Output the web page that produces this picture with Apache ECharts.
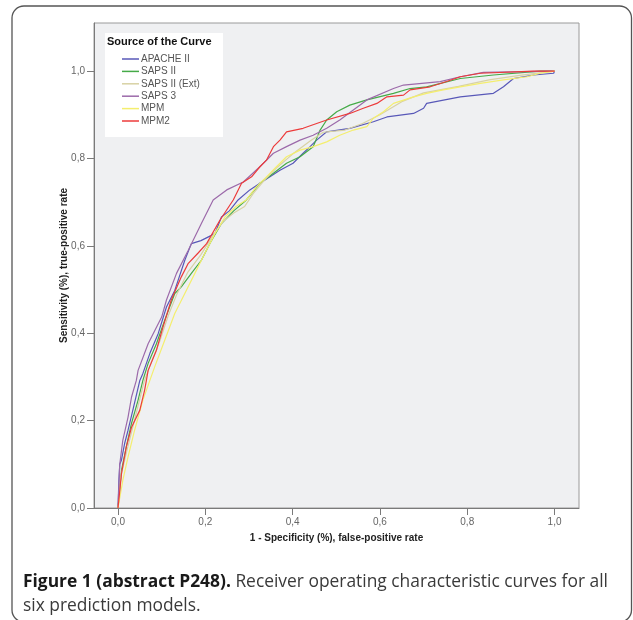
<!DOCTYPE html>
<html><head><meta charset="utf-8">
<script src="https://cdn.jsdelivr.net/npm/echarts@6/dist/echarts.min.js"></script>
<style>html,body{margin:0;padding:0;background:#fff}#c{width:633px;height:620px}</style>
</head><body><div id="c"></div>
<script>
// Series names (legend order)
const seriesNames = ['APACHE II', 'SAPS II', 'SAPS II (Ext)', 'SAPS 3', 'MPM', 'MPM2'];
const seriesColors = ['#5858b8', '#45aa48', '#d8d2a4', '#9c6aaa', '#f4ee6e', '#ec3b3b'];
const tickValues = [0, 0.2, 0.4, 0.6, 0.8, 1.0];

// [1 - specificity, sensitivity]
const apache2 = [[0,0],[0.002,0.063],[0.004,0.10],[0.008,0.11],[0.015,0.147],[0.023,0.178],[0.034,0.224],[0.05,0.292],[0.057,0.308],[0.073,0.354],[0.092,0.399],[0.111,0.46],[0.13,0.498],[0.153,0.567],[0.168,0.605],[0.19,0.612],[0.206,0.62],[0.222,0.628],[0.237,0.666],[0.255,0.68],[0.275,0.705],[0.302,0.728],[0.325,0.743],[0.348,0.758],[0.371,0.773],[0.401,0.789],[0.424,0.812],[0.44,0.827],[0.455,0.842],[0.478,0.861],[0.531,0.869],[0.585,0.884],[0.616,0.895],[0.677,0.903],[0.7,0.915],[0.707,0.926],[0.784,0.941],[0.86,0.949],[0.883,0.964],[0.906,0.983],[0.952,0.991],[0.998,0.995],[1,1]];
const saps2 = [[0,0],[0.008,0.086],[0.019,0.14],[0.031,0.194],[0.046,0.247],[0.057,0.292],[0.069,0.331],[0.088,0.376],[0.107,0.43],[0.13,0.491],[0.145,0.506],[0.168,0.537],[0.191,0.567],[0.214,0.612],[0.237,0.651],[0.265,0.68],[0.294,0.705],[0.325,0.743],[0.356,0.766],[0.386,0.789],[0.417,0.804],[0.447,0.827],[0.463,0.865],[0.478,0.888],[0.501,0.907],[0.531,0.922],[0.57,0.934],[0.631,0.949],[0.669,0.96],[0.707,0.964],[0.784,0.983],[0.86,0.991],[0.967,1.0],[1,1]];
const saps2ext = [[0,0],[0.006,0.07],[0.02,0.13],[0.035,0.19],[0.05,0.25],[0.06,0.29],[0.075,0.33],[0.095,0.38],[0.115,0.44],[0.135,0.49],[0.16,0.54],[0.19,0.58],[0.215,0.62],[0.24,0.655],[0.265,0.675],[0.29,0.69],[0.31,0.72],[0.335,0.75],[0.365,0.78],[0.4,0.81],[0.44,0.84],[0.47,0.86],[0.52,0.865],[0.56,0.88],[0.6,0.9],[0.65,0.93],[0.7,0.95],[0.78,0.965],[0.85,0.98],[0.92,0.99],[1,1]];
const saps3 = [[0,0],[0.004,0.10],[0.011,0.155],[0.023,0.208],[0.031,0.254],[0.042,0.292],[0.046,0.315],[0.069,0.376],[0.1,0.437],[0.111,0.476],[0.134,0.537],[0.161,0.59],[0.191,0.651],[0.218,0.705],[0.249,0.728],[0.287,0.746],[0.325,0.781],[0.356,0.812],[0.386,0.827],[0.417,0.842],[0.447,0.853],[0.478,0.869],[0.508,0.888],[0.539,0.911],[0.57,0.934],[0.631,0.96],[0.654,0.968],[0.738,0.976],[0.784,0.987],[0.837,0.997],[1,1]];
const mpm = [[0,0],[0.011,0.063],[0.023,0.117],[0.038,0.178],[0.057,0.247],[0.073,0.292],[0.084,0.323],[0.107,0.384],[0.13,0.445],[0.153,0.491],[0.176,0.537],[0.199,0.583],[0.222,0.628],[0.245,0.666],[0.27,0.69],[0.294,0.705],[0.317,0.735],[0.34,0.758],[0.363,0.781],[0.386,0.804],[0.417,0.819],[0.447,0.827],[0.478,0.838],[0.508,0.853],[0.539,0.865],[0.57,0.873],[0.585,0.892],[0.608,0.907],[0.631,0.926],[0.677,0.941],[0.707,0.949],[0.745,0.957],[0.784,0.964],[0.83,0.972],[0.883,0.98],[0.937,0.987],[0.967,0.995],[1,1]];
const mpm2 = [[0,0],[0.008,0.079],[0.019,0.14],[0.031,0.185],[0.05,0.224],[0.061,0.27],[0.065,0.292],[0.069,0.315],[0.088,0.361],[0.103,0.414],[0.122,0.476],[0.145,0.529],[0.161,0.56],[0.183,0.583],[0.203,0.605],[0.233,0.658],[0.264,0.705],[0.283,0.743],[0.306,0.758],[0.325,0.781],[0.34,0.796],[0.356,0.827],[0.371,0.842],[0.386,0.861],[0.424,0.869],[0.455,0.88],[0.478,0.888],[0.531,0.903],[0.562,0.915],[0.593,0.926],[0.616,0.941],[0.654,0.945],[0.669,0.957],[0.715,0.964],[0.753,0.976],[0.784,0.987],[0.83,0.995],[0.952,1.0],[1,1]];

const allData = [apache2, saps2, saps2ext, saps3, mpm, mpm2];
const FONT = '"Liberation Sans", Arial, sans-serif';
const CAPFONT = '"Open Sans", "Noto Sans", sans-serif';
const fmt = v => v.toFixed(1).replace('.', ',');

const chart = echarts.init(document.getElementById('c'), null, {renderer: 'canvas'});
chart.setOption({
  animation: false,
  backgroundColor: '#fff',
  grid: {left: 94, top: 23, right: 54, bottom: 112, show: true, backgroundColor: '#eff0f2', borderColor: '#9a9a9a', borderWidth: 1},
  xAxis: {
    type: 'value', min: -0.055, max: 1.056,
    name: '1 - Specificity (%), false-positive rate', nameLocation: 'middle', nameGap: 25, nameMoveOverlap: false,
    nameTextStyle: {fontFamily: FONT, fontSize: 10, fontWeight: 'bold', color: '#222'},
    axisLine: {show: true, onZero: false, lineStyle: {color: '#7a7a7a', width: 1}},
    axisTick: {show: true, length: 7, lineStyle: {color: '#7a7a7a'}, customValues: tickValues},
    axisLabel: {fontFamily: FONT, fontSize: 10, color: '#666', margin: 9, formatter: fmt, customValues: tickValues},
    splitLine: {show: false}
  },
  yAxis: {
    type: 'value', min: 0, max: 1.11,
    name: 'Sensitivity (%), true-positive rate', nameLocation: 'middle', nameGap: 25, nameMoveOverlap: false,
    nameTextStyle: {fontFamily: FONT, fontSize: 10, fontWeight: 'bold', color: '#222'},
    axisLine: {show: true, onZero: false, lineStyle: {color: '#7a7a7a', width: 1}},
    axisTick: {show: true, length: 7, lineStyle: {color: '#7a7a7a'}, customValues: tickValues},
    axisLabel: {fontFamily: FONT, fontSize: 10, color: '#666', margin: 9, formatter: fmt, customValues: tickValues},
    splitLine: {show: false}
  },
  legend: {
    orient: 'vertical', left: 122, top: 53, padding: 0,
    itemWidth: 17, itemHeight: 1.5, itemGap: 0.4, icon: 'rect',
    textStyle: {fontFamily: FONT, fontSize: 10, color: '#555', lineHeight: 12, padding: [0, 0, 0, -3]},
    data: seriesNames
  },
  graphic: [
    {type: 'rect', silent: true, z: 3, shape: {x: 105, y: 33, width: 118, height: 104}, style: {fill: '#fff'}},
    {type: 'text', silent: true, z: 5, x: 107, y: 42, style: {text: 'Source of the Curve', font: 'bold 11px ' + FONT, fill: '#111', verticalAlign: 'middle'}},
    {type: 'rect', silent: true, z: 0, shape: {x: 12, y: 6, width: 619.5, height: 616, r: 12}, style: {fill: 'none', stroke: '#555', lineWidth: 1.3}},
    {type: 'text', silent: true, z: 5, x: 23, y: 582, style: {
      text: '{b|Figure 1 (abstract P248).} Receiver operating characteristic curves for all',
      font: '17.4px ' + CAPFONT, fill: '#3a3a3a', verticalAlign: 'middle',
      rich: {b: {font: 'bold 17.4px ' + CAPFONT, fill: '#1a1a1a'}}}},
    {type: 'text', silent: true, z: 5, x: 23, y: 606, style: {
      text: 'six prediction models.', font: '17.4px ' + CAPFONT, fill: '#3a3a3a', verticalAlign: 'middle'}}
  ],
  series: seriesNames.map((n, i) => ({
    name: n, type: 'line', data: allData[i], showSymbol: false, symbol: 'none',
    color: seriesColors[i], lineStyle: {width: 1.2, color: seriesColors[i]}, z: 2 + i * 0.01
  }))
});
</script></body></html>
